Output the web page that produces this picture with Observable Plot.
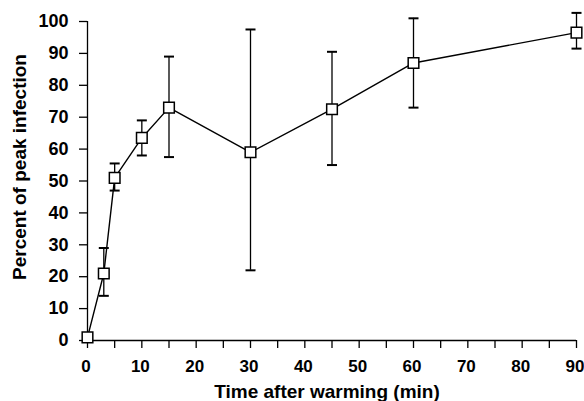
<!DOCTYPE html>
<html>
<head>
<meta charset="utf-8">
<script src="https://cdn.jsdelivr.net/npm/d3@7"></script>
<script src="https://cdn.jsdelivr.net/npm/@observablehq/plot@0.6"></script>
<style>
  html, body { margin: 0; padding: 0; background: #fff; }
</style>
</head>
<body>
<div id="chart"></div>
<script>
// Data
const times = [0, 3, 5, 10, 15, 30, 45, 60, 90];
const means = [1, 21, 51, 63.5, 73, 59, 72.5, 87, 96.5];
const upper = [null, 29, 55.5, 69, 89, 97.5, 90.5, 101, 102.7];
const lower = [null, 14, 47, 58, 57.5, 22, 55, 73, 91.5];

const xTicks = [0, 5, 10, 15, 20, 25, 30, 35, 40, 45, 50, 55, 60, 65, 70, 75, 80, 85, 90];
const xLabelTicks = [0, 10, 20, 30, 40, 50, 60, 70, 80, 90];
const yTicks = [0, 10, 20, 30, 40, 50, 60, 70, 80, 90, 100];

const xTitle = "Time after warming (min)";
const yTitle = "Percent of peak infection";

const rows = times.map((t, i) => ({t, mean: means[i], hi: upper[i], lo: lower[i]}));

const capSymbol = {
  draw(ctx, size) {
    const r = Math.sqrt(size / Math.PI);
    ctx.moveTo(-r, 0);
    ctx.lineTo(r, 0);
  }
};

const font = "'Liberation Sans', Arial, Helvetica, sans-serif";

const chart = Plot.plot({
  width: 584,
  height: 401,
  marginLeft: 87,
  marginRight: 8,
  marginTop: 21,
  marginBottom: 61,
  style: {fontFamily: font, fontSize: "18px", fontWeight: "bold", color: "#000", background: "#fff"},
  x: {domain: [0, 90]},
  y: {domain: [0, 100]},
  marks: [
    Plot.ruleX([0], {stroke: "#000", strokeWidth: 1.3}),
    Plot.ruleY([0], {stroke: "#000", strokeWidth: 1.3}),
    Plot.axisX({ticks: xTicks, tickSize: 8, label: null, stroke: "#000", strokeWidth: 1.3, tickFormat: () => ""}),
    Plot.axisX({ticks: xLabelTicks, tickSize: 0, tickPadding: 19, dx: -1.5, label: null,
      tickFormat: d => String(d), fontSize: 17, fontWeight: "bold", fill: "#000"}),
    Plot.axisY({ticks: yTicks, tickSize: 8, tickPadding: 11, label: null, stroke: "#000", strokeWidth: 1.3,
      tickFormat: d => String(d), fontSize: 18, fontWeight: "bold"}),
    Plot.text([xTitle], {frameAnchor: "bottom", lineAnchor: "bottom", dy: 57, dx: -5, fontSize: 19, fontWeight: "bold", fill: "#000"}),
    Plot.text([yTitle], {frameAnchor: "left", textAnchor: "middle", lineAnchor: "bottom", rotate: -90, dx: -62, dy: -14, fontSize: 19, fontWeight: "bold", fill: "#000"}),
    Plot.line(rows, {x: "t", y: "mean", stroke: "#000", strokeWidth: 1.4}),
    Plot.ruleX(rows.filter(d => d.hi != null), {x: "t", y1: "lo", y2: "hi", stroke: "#000", strokeWidth: 1.3}),
    Plot.dot(rows.filter(d => d.hi != null), {x: "t", y: "hi", symbol: capSymbol, r: 5, stroke: "#000", strokeWidth: 2, fill: "none"}),
    Plot.dot(rows.filter(d => d.lo != null), {x: "t", y: "lo", symbol: capSymbol, r: 5, stroke: "#000", strokeWidth: 2, fill: "none"}),
    Plot.dot(rows, {x: "t", y: "mean", symbol: "square", r: 6, fill: "#fff", stroke: "#000", strokeWidth: 1.5})
  ]
});
document.getElementById("chart").appendChild(chart);
</script>
</body>
</html>
